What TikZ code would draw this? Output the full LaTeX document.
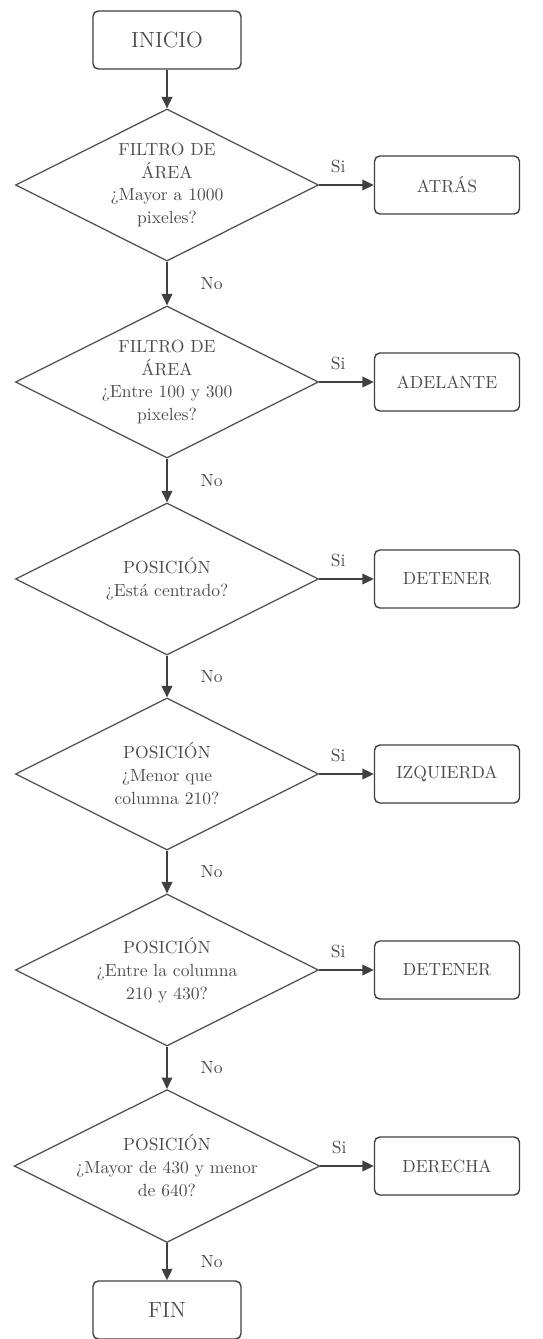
\documentclass[tikz,border=0pt]{standalone}
\usepackage{tikz}
\usetikzlibrary{positioning,shapes.geometric,arrows.meta}

\begin{document}
\begin{tikzpicture}[x=0.02cm, y=-0.02cm,
  every node/.style={text=black!70},
  term/.style={rectangle, rounded corners=3pt, draw=black!75, line width=0.8pt, minimum width=2.96cm, minimum height=1.16cm, font=\fontsize{12.5}{14}\selectfont},
  caja/.style={rectangle, rounded corners=3pt, draw=black!75, line width=0.8pt, minimum width=2.9cm, minimum height=1.16cm, font=\fontsize{10}{12}\selectfont},
  cond/.style={diamond, aspect=2, draw=black!70, line width=0.7pt, inner sep=0pt, minimum width=6.06cm, minimum height=3.04cm, align=center, font=\fontsize{10}{13}\selectfont},
  flecha/.style={draw=black!75, line width=1pt, -{Triangle[length=6.5pt,width=6pt]}},
  etiq/.style={font=\fontsize{10}{12}\selectfont}]
\useasboundingbox (0,0) rectangle (543,1339);

\node[term] (inicio) at (167,40) {INICIO};
\node[cond] (c1) at (167,185) {FILTRO DE\\ÁREA\\¿Mayor a 1000\\pixeles?};
\node[caja] (atras) at (447,185) {ATRÁS};
\node[cond] (c2) at (167,382) {FILTRO DE\\ÁREA\\¿Entre 100 y 300\\pixeles?};
\node[caja] (adelante) at (447,382) {ADELANTE};
\node[cond] (c3) at (167,579) {POSICIÓN\\¿Está centrado?};
\node[caja] (detener1) at (447,579) {DETENER};
\node[cond] (c4) at (167,774) {POSICIÓN\\¿Menor que\\columna 210?};
\node[caja] (izquierda) at (447,774) {IZQUIERDA};
\node[cond] (c5) at (167,970) {POSICIÓN\\¿Entre la columna\\210 y 430?};
\node[caja] (detener2) at (447,970) {DETENER};
\node[cond] (c6) at (167,1166) {POSICIÓN\\¿Mayor de 430 y menor\\de 640?};
\node[caja] (derecha) at (447,1166) {DERECHA};
\node[term] (fin) at (167,1310) {FIN};

% flujo principal
\draw[flecha] (inicio) -- (c1);
\draw[flecha] (c1) -- node[etiq, right=0.54cm] {No} (c2);
\draw[flecha] (c2) -- node[etiq, right=0.54cm] {No} (c3);
\draw[flecha] (c3) -- node[etiq, right=0.54cm] {No} (c4);
\draw[flecha] (c4) -- node[etiq, right=0.54cm] {No} (c5);
\draw[flecha] (c5) -- node[etiq, right=0.54cm] {No} (c6);
\draw[flecha] (c6) -- node[etiq, right=0.54cm] {No} (fin);

% salidas por Si
\draw[flecha] (c1) -- node[etiq, above=3pt, pos=0.35] {Si} (atras);
\draw[flecha] (c2) -- node[etiq, above=3pt, pos=0.35] {Si} (adelante);
\draw[flecha] (c3) -- node[etiq, above=3pt, pos=0.35] {Si} (detener1);
\draw[flecha] (c4) -- node[etiq, above=3pt, pos=0.35] {Si} (izquierda);
\draw[flecha] (c5) -- node[etiq, above=3pt, pos=0.35] {Si} (detener2);
\draw[flecha] (c6) -- node[etiq, above=3pt, pos=0.35] {Si} (derecha);
\end{tikzpicture}
\end{document}
